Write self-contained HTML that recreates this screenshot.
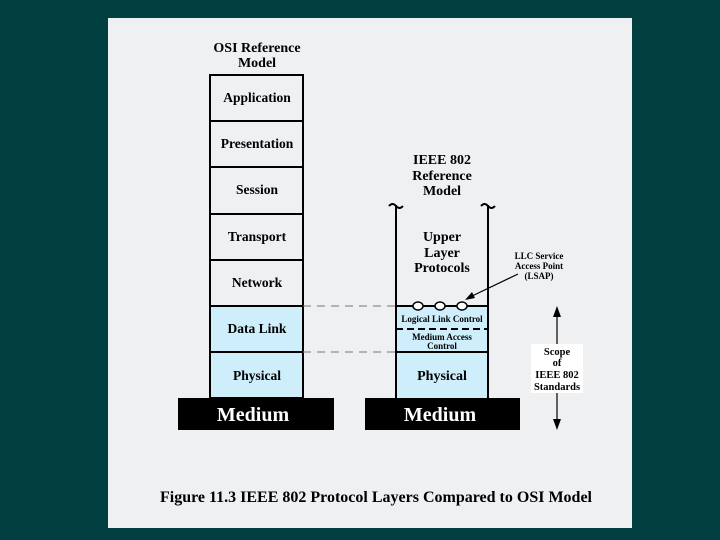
<!DOCTYPE html>
<html><head><style>
body{margin:0;width:720px;height:540px;background:#013f40;overflow:hidden}
svg{display:block}
text{font-family:"Liberation Serif",serif;font-weight:bold;fill:#000}
</style></head><body>
<svg width="720" height="540" viewBox="0 0 720 540">
<rect x="108" y="18" width="524" height="510" fill="#eef0f1"/>
<text x="257" y="52" font-size="14" text-anchor="middle">OSI Reference</text>
<text x="257" y="67" font-size="14" text-anchor="middle">Model</text>
<rect x="210" y="306" width="93" height="92" fill="#cdeefa"/>
<g stroke="#000" stroke-width="2" fill="none">
<rect x="210" y="75" width="93" height="323"/>
<line x1="210" y1="121" x2="303" y2="121"/><line x1="210" y1="167" x2="303" y2="167"/>
<line x1="210" y1="214" x2="303" y2="214"/><line x1="210" y1="260" x2="303" y2="260"/>
<line x1="210" y1="306" x2="303" y2="306"/><line x1="210" y1="352" x2="303" y2="352"/>
</g>
<g font-size="13.5" text-anchor="middle">
<text x="257" y="102">Application</text><text x="257" y="148">Presentation</text>
<text x="257" y="194">Session</text><text x="257" y="241">Transport</text>
<text x="257" y="287">Network</text><text x="257" y="333">Data Link</text>
<text x="257" y="380">Physical</text>
</g>
<rect x="178" y="398" width="156" height="32" fill="#000"/>
<rect x="365" y="398" width="155" height="32" fill="#000"/>
<text x="253" y="421" font-size="20" text-anchor="middle" style="fill:#fff">Medium</text>
<text x="440" y="421" font-size="20" text-anchor="middle" style="fill:#fff">Medium</text>
<text x="442" y="164" font-size="14" text-anchor="middle">IEEE 802</text>
<text x="442" y="180" font-size="14" text-anchor="middle">Reference</text>
<text x="442" y="195" font-size="14" text-anchor="middle">Model</text>
<rect x="396" y="306" width="92" height="92" fill="#cdeefa"/>
<g stroke="#000" stroke-width="2" fill="none">
<line x1="396" y1="205" x2="396" y2="398"/><line x1="488" y1="205" x2="488" y2="398"/>
<path d="M389 206 q3.5 -4 7 0 t7 0"/><path d="M481 206 q3.5 -4 7 0 t7 0"/>
<line x1="396" y1="306" x2="488" y2="306"/>
<line x1="396" y1="329" x2="488" y2="329" stroke-dasharray="7,4"/>
<line x1="396" y1="352" x2="488" y2="352"/>
</g>
<g fill="#fff" stroke="#000" stroke-width="1.5">
<ellipse cx="418" cy="306" rx="5" ry="4"/><ellipse cx="440" cy="306" rx="5" ry="4"/><ellipse cx="462" cy="306" rx="5" ry="4"/>
</g>
<g stroke="#777" stroke-width="1" stroke-dasharray="8,6">
<line x1="303" y1="306" x2="396" y2="306"/><line x1="303" y1="352" x2="396" y2="352"/>
</g>
<g font-size="14" text-anchor="middle">
<text x="442" y="241">Upper</text><text x="442" y="257">Layer</text><text x="442" y="272">Protocols</text>
<text x="442" y="380">Physical</text>
</g>
<text x="442" y="322" font-size="9" text-anchor="middle">Logical Link Control</text>
<text x="442" y="340" font-size="9" text-anchor="middle">Medium Access</text>
<text x="442" y="349" font-size="9" text-anchor="middle">Control</text>
<g font-size="9" text-anchor="middle">
<text x="539" y="259">LLC Service</text><text x="539" y="269">Access Point</text><text x="539" y="279">(LSAP)</text>
</g>
<line x1="518" y1="274" x2="470" y2="297" stroke="#000" stroke-width="1.2"/>
<polygon points="465,300 472,292 475,298" fill="#000"/>
<line x1="557" y1="312" x2="557" y2="424" stroke="#000" stroke-width="1.2"/>
<polygon points="557,306 553,317 561,317" fill="#000"/>
<polygon points="557,430 553,419 561,419" fill="#000"/>
<rect x="531" y="344" width="52" height="49" fill="#fff"/>
<g font-size="10.5" text-anchor="middle">
<text x="557" y="355">Scope</text><text x="557" y="366">of</text><text x="557" y="378">IEEE 802</text><text x="557" y="390">Standards</text>
</g>
<text x="376" y="502" font-size="16" text-anchor="middle">Figure 11.3  IEEE 802 Protocol Layers Compared to OSI Model</text>
</svg>
</body></html>
